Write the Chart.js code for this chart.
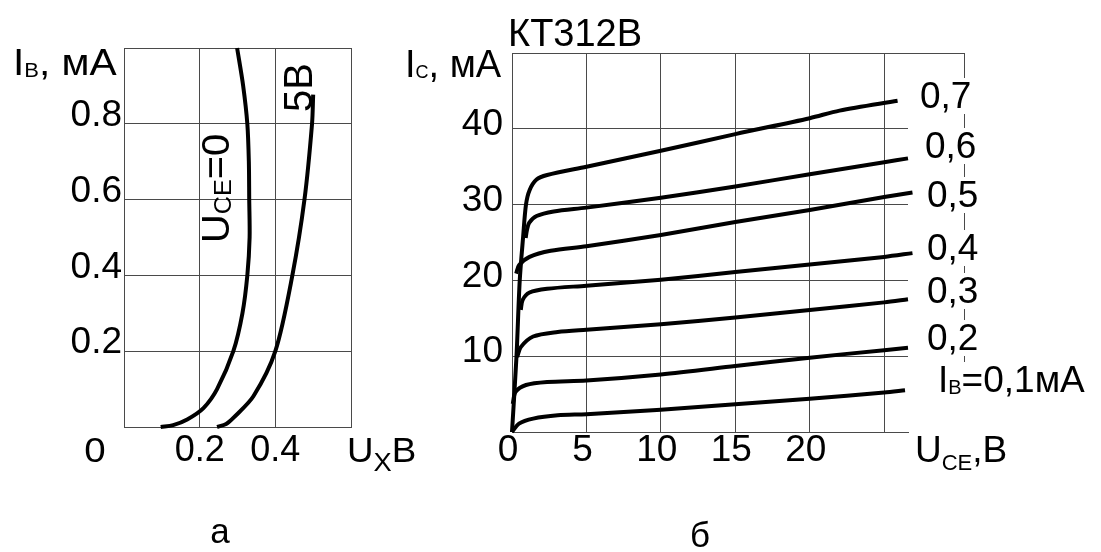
<!DOCTYPE html>
<html>
<head>
<meta charset="utf-8">
<script src="https://cdn.jsdelivr.net/npm/chart.js@4.4.1/dist/chart.umd.min.js"></script>
<style>
    html, body { margin: 0; padding: 0; background: #fff; }
    #wrap { position: relative; width: 1101px; height: 552px; }
    #wrap canvas { position: absolute; left: 0; top: 0; }
</style>
</head>
<body>
<div id="wrap">
    <canvas id="input-chart" width="1101" height="552"></canvas>
    <canvas id="output-chart" width="1101" height="552"></canvas>
</div>
<script>
// --- (a) input characteristics: I_B vs U_X ---
const inU_uce0 = [0.097, 0.13, 0.167, 0.21, 0.246, 0.289, 0.313, 0.326, 0.332, 0.331, 0.33, 0.326, 0.315, 0.299];
const inI_uce0 = [0, 0.005, 0.02, 0.05, 0.1, 0.2, 0.3, 0.4, 0.5, 0.6, 0.7, 0.8, 0.9, 1.0];
const inU_uce5 = [0.246, 0.27, 0.289, 0.342, 0.4, 0.445, 0.477, 0.497, 0.50];
const inI_uce5 = [0, 0.008, 0.024, 0.081, 0.2, 0.4, 0.6, 0.8, 0.877];

const inXTicks = [0, 0.2, 0.4, 0.6];
const inXTickLabels = ['', '0.2', '0.4', ''];
const inYTicks = [0, 0.2, 0.4, 0.6, 0.8, 1.0];
const inYTickLabels = ['', '0.2', '0.4', '0.6', '0.8', ''];

// --- (б) output characteristics KT312B: I_C vs U_CE ---
const outU07 = [0, 0.3, 0.52, 0.75, 0.94, 1.18, 1.65, 2.36, 5, 10, 15, 20, 22, 25.9];
const outI07 = [0, 9.9, 20, 25.8, 30, 31.9, 33.3, 33.9, 35.0, 37.1, 39.3, 41.4, 42.4, 43.7];
const outU06 = [0.92, 1.0, 1.15, 1.65, 2.8, 5, 10, 15, 20, 25, 26.6];
const outI06 = [25.6, 26.6, 27.6, 28.5, 29.1, 29.6, 30.9, 32.4, 34.0, 35.6, 36.1];
const outU05 = [0.28, 0.47, 1.18, 2.6, 5, 10, 15, 20, 25, 26.9];
const outI05 = [20.9, 22.0, 23.1, 23.9, 24.5, 26.0, 27.7, 29.3, 31.0, 31.6];
const outU04 = [0.59, 0.71, 1.18, 2.36, 5, 10, 15, 20, 25, 26.9];
const outI04 = [16.1, 17.4, 18.4, 18.9, 19.3, 20.1, 21.1, 22.1, 23.1, 23.6];
const outU03 = [0.35, 0.59, 1.42, 3.07, 5, 10, 15, 20, 25, 26.6];
const outI03 = [9.9, 11.2, 12.6, 13.2, 13.5, 14.2, 15.1, 16.1, 17.1, 17.5];
const outU02 = [0.05, 0.24, 0.94, 2.36, 5, 10, 15, 20, 25, 26.6];
const outI02 = [3.7, 5.3, 6.2, 6.6, 6.8, 7.6, 8.7, 9.8, 10.8, 11.1];
const outU01 = [0, 0.47, 1.42, 3.07, 5, 10, 15, 20, 25, 26.4];
const outI01 = [0, 1.1, 1.76, 2.2, 2.35, 2.95, 3.65, 4.4, 5.2, 5.5];

const outXTicks = [0, 5, 10, 15, 20, 25];
const outXTickLabels = ['0', '5', '10', '15', '20', ''];
const outYTicks = [0, 10, 20, 30, 40, 50];
const outYTickLabels = ['', '10', '20', '30', '40', ''];
const outCurveLabels = ['0,7', '0,6', '0,5', '0,4', '0,3', '0,2'];

const FONT = '"Liberation Sans", Arial, sans-serif';
const GRID = '#4a4a4a';

function toPoints(xs, ys) {
    return xs.map((x, i) => ({ x: x, y: ys[i] }));
}

function curve(xs, ys) {
    return {
        data: toPoints(xs, ys),
        showLine: true,
        borderColor: '#000',
        borderWidth: 4,
        pointRadius: 0,
        tension: 0.3,
        fill: false,
        clip: false
    };
}

// draws text made of pieces [text, size, dy], left to right from (x, y) baseline
function drawParts(ctx, parts, x, y, opts) {
    opts = opts || {};
    ctx.save();
    ctx.translate(x, y);
    if (opts.rotate) ctx.rotate(-Math.PI / 2);
    ctx.scale(opts.sx || 1, 1);
    ctx.fillStyle = '#000';
    ctx.textBaseline = 'alphabetic';
    let width = 0;
    parts.forEach(p => {
        ctx.font = p[1] + 'px ' + FONT;
        width += ctx.measureText(p[0]).width;
    });
    let cx = opts.center ? -width / 2 : 0;
    parts.forEach(p => {
        ctx.font = p[1] + 'px ' + FONT;
        ctx.textAlign = 'left';
        ctx.fillText(p[0], cx, p[2] || 0);
        cx += ctx.measureText(p[0]).width;
    });
    ctx.restore();
}

function fixedTicks(values) {
    return scale => { scale.ticks = values.map(v => ({ value: v })); };
}

function axis(min, max, values, labels, size, extra) {
    return Object.assign({
        type: 'linear',
        min: min,
        max: max,
        afterBuildTicks: fixedTicks(values),
        ticks: {
            callback: (v, i) => labels[i],
            font: { family: FONT, size: size },
            color: '#000',
            autoSkip: false,
            maxRotation: 0,
            minRotation: 0
        },
        grid: { color: GRID, lineWidth: 1, drawTicks: false },
        border: { color: GRID, width: 1 }
    }, extra);
}

const inputText = {
    id: 'inputText',
    afterDraw(chart) {
        const ctx = chart.ctx;
        drawParts(ctx, [['I', 37], ['B', 20, 2], [', мА', 37]], 13, 75, { sx: 1.1 });
        drawParts(ctx, [['0', 35]], 95, 462, { sx: 1.1, center: true });
        drawParts(ctx, [['U', 35], ['X', 26, 9], ['В', 35]], 347, 462, { sx: 1.05 });
        drawParts(ctx, [['U', 38], ['CE', 24, 2], ['=0', 38]], 229, 243, { rotate: true, sx: 1.05 });
        drawParts(ctx, [['5В', 40]], 312, 112, { rotate: true });
        drawParts(ctx, [['а', 35]], 220, 543, { center: true });
    }
};

const outputText = {
    id: 'outputText',
    afterDraw(chart) {
        const ctx = chart.ctx;
        const area = chart.chartArea;
        const edgeX = 964;
        ctx.save();
        ctx.strokeStyle = GRID;
        ctx.lineWidth = 1;
        ctx.beginPath();
        ctx.moveTo(area.right, area.top + 0.5);
        ctx.lineTo(edgeX, area.top + 0.5);
        ctx.moveTo(edgeX + 0.5, area.top);
        ctx.lineTo(edgeX + 0.5, 376);
        ctx.stroke();
        ctx.restore();

        drawParts(ctx, [['КТ312В', 38]], 508, 46);
        drawParts(ctx, [['I', 38], ['C', 18, 1], [', мА', 38]], 405, 77);

        const labelX = [920, 925, 927, 927, 927, 927];
        const labelY = [108, 158, 207, 260, 303, 350];
        outCurveLabels.forEach((t, i) => {
            ctx.fillStyle = '#fff';
            ctx.fillRect(labelX[i], labelY[i] - 30, 60, 36);
            drawParts(ctx, [[t, 37]], labelX[i], labelY[i]);
        });
        ctx.fillStyle = '#fff';
        ctx.fillRect(938, 362, 160, 36);
        drawParts(ctx, [['I', 37], ['B', 20, 2], ['=0,1мА', 37]], 938, 392);
        drawParts(ctx, [['U', 37], ['CE', 22, 8], [',В', 37]], 915, 462);
        drawParts(ctx, [['б', 35]], 700, 547, { center: true });
    }
};

function baseOptions(padding) {
    return {
        responsive: false,
        animation: false,
        events: [],
        layout: { padding: padding },
        plugins: { legend: { display: false }, tooltip: { enabled: false } }
    };
}

// --- chart (a) ---
const inOpts = baseOptions({ left: 0, top: 48, right: 750, bottom: 65 });
inOpts.scales = {
    x: axis(0, 0.6, inXTicks, inXTickLabels, 36, {
        afterFit: s => { s.height = 60; }
    }),
    y: axis(0, 1.0, inYTicks, inYTickLabels, 37, {
        afterFit: s => { s.width = 124; }
    })
};
inOpts.scales.x.ticks.padding = 2;
inOpts.scales.y.ticks.padding = 2;
inOpts.scales.y.ticks.labelOffset = -8;

new Chart(document.getElementById('input-chart'), {
    type: 'scatter',
    data: { datasets: [curve(inU_uce0, inI_uce0), curve(inU_uce5, inI_uce5)] },
    options: inOpts,
    plugins: [inputText]
});

// --- chart (б) ---
const outOpts = baseOptions({ left: 420, top: 53, right: 193, bottom: 60 });
outOpts.scales = {
    x: axis(0, 26.6, outXTicks, outXTickLabels, 37, {
        afterFit: s => { s.height = 60; }
    }),
    y: axis(0, 50, outYTicks, outYTickLabels, 37, {
        afterFit: s => { s.width = 92; }
    })
};
outOpts.scales.x.ticks.padding = -3;
outOpts.scales.x.ticks.labelOffset = -4;
outOpts.scales.y.ticks.padding = 9;
outOpts.scales.y.ticks.labelOffset = -4;

new Chart(document.getElementById('output-chart'), {
    type: 'scatter',
    data: {
        datasets: [
            curve(outU07, outI07), curve(outU06, outI06), curve(outU05, outI05),
            curve(outU04, outI04), curve(outU03, outI03), curve(outU02, outI02),
            curve(outU01, outI01)
        ]
    },
    options: outOpts,
    plugins: [outputText]
});
</script>
</body>
</html>
